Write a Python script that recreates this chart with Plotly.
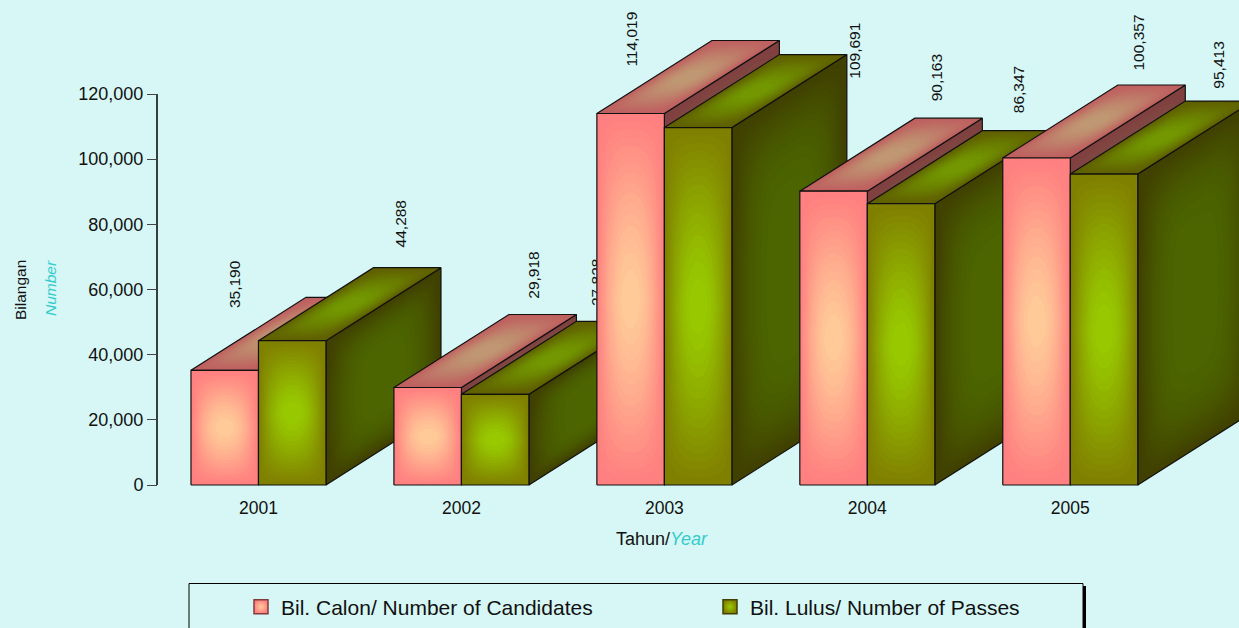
import plotly.graph_objects as go

# ---- data -------------------------------------------------------------
years = ["2001", "2002", "2003", "2004", "2005"]
candidates = [35190, 29918, 114019, 90163, 100357]
passes = [44288, 27828, 109691, 86347, 95413]
y_ticks = [0, 20000, 40000, 60000, 80000, 100000, 120000]
name_candidates = "Bil. Calon/ Number of Candidates"
name_passes = "Bil. Lulus/ Number of Passes"

# ---- styling / geometry (pixels of the page) ---------------------------
W, H = 1239, 628
PL, PR, PT, PB = 157, 1171.75, 94, 485
BG = "#d6f7f5"
X_PER_PX = 5 / (PR - PL)
Y_PER_PX = 120000 / (PB - PT)
BAR_W = 67.5 * X_PER_PX
DEPTH_X = 115 * X_PER_PX
DEPTH_Y = 73 * Y_PER_PX
LEVELS = 16

PINK = ((255, 128, 128), (255, 204, 153))
GREEN = ((128, 128, 0), (153, 204, 0))
label_shift_cand = [(10, 60), (105, 87), (1, 45), (103, 88), (101, 85)]
label_shift_pass = [(108, 91), (102, 86), (156, 47), (117, 88), (115, 83)]


def mix(pair, s, k):
    a, b = pair
    return "rgb(%d,%d,%d)" % tuple(round((a[i] + (b[i] - a[i]) * s) * k) for i in range(3))


def contour(level, px, py, n=14):
    """Closed contour (u, v in -1..1) of (1-|u|^px)(1-|v|^py) = level."""
    umax = (1 - level) ** (1 / px) * 0.999
    us = [-umax + 2 * umax * i / (2 * n) for i in range(2 * n + 1)]
    upper = []
    for u in us:
        f = max(1 - abs(u) ** px, 1e-6)
        upper.append((u, max(1 - level / f, 0) ** (1 / py)))
    lower = [(u, -v) for u, v in reversed(upper)]
    return upper + lower


def face(fig, corners, pair, k, px=2.2, py=1.5):
    p0, p1, p2, p3 = corners  # bottom-left, bottom-right, top-right, top-left
    def mapper(u, v):
        a, b = (u + 1) / 2, (v + 1) / 2
        x = (1 - b) * ((1 - a) * p0[0] + a * p1[0]) + b * ((1 - a) * p3[0] + a * p2[0])
        y = (1 - b) * ((1 - a) * p0[1] + a * p1[1]) + b * ((1 - a) * p3[1] + a * p2[1])
        return x, y
    xs = [c[0] for c in corners] + [p0[0]]
    ys = [c[1] for c in corners] + [p0[1]]
    fig.add_trace(go.Scatter(x=xs, y=ys, mode="lines", fill="toself", fillcolor=mix(pair, 0, k),
                             line=dict(width=0), hoverinfo="skip", showlegend=False))
    for i in range(1, LEVELS):
        level = i / LEVELS
        pts = [mapper(u, v) for u, v in contour(level, px, py)]
        fig.add_trace(go.Scatter(x=[p[0] for p in pts], y=[p[1] for p in pts], mode="lines",
                                 fill="toself", fillcolor=mix(pair, ((i + 0.5) / LEVELS) ** 1.2, k),
                                 line=dict(width=0), hoverinfo="skip", showlegend=False))
    fig.add_trace(go.Scatter(x=xs, y=ys, mode="lines", line=dict(color="#111111", width=1.2),
                             hoverinfo="skip", showlegend=False))


def box(fig, x0, value, pair):
    x1 = x0 + BAR_W
    dx, dy = DEPTH_X, DEPTH_Y
    face(fig, [(x1, 0), (x1 + dx, dy), (x1 + dx, value + dy), (x1, value)], pair, 0.5, 3, 4)
    face(fig, [(x0, value), (x1, value), (x1 + dx, value + dy), (x0 + dx, value + dy)], pair, 0.75, 2.5, 1.8)
    face(fig, [(x0, 0), (x1, 0), (x1, value), (x0, value)], pair, 1.0)


fig = go.Figure()
fig.add_trace(go.Scatter(x=[0, 0], y=[y_ticks[0], y_ticks[-1]], mode="lines", hoverinfo="skip",
                         line=dict(color="#000000", width=1.5), showlegend=False))
for i, year in enumerate(years):
    box(fig, i + 0.5 - BAR_W, candidates[i], PINK)
    box(fig, i + 0.5, passes[i], GREEN)

# legend entries
for name, pair, edge in ((name_candidates, PINK, "#803c3c"), (name_passes, GREEN, "#404000")):
    fig.add_trace(go.Scatter(
        x=[None], y=[None], mode="markers", name=name,
        marker=dict(symbol="square", size=14, color=mix(pair, 0, 1),
                    gradient=dict(type="radial", color=mix(pair, 1, 1)),
                    line=dict(color=edge, width=1.5))))

annotations = []
all_labels = []
for i in range(len(years)):
    all_labels.append((i + 0.5 - BAR_W / 2, candidates[i], label_shift_cand[i]))
    all_labels.append((i + 0.5 + BAR_W / 2, passes[i], label_shift_pass[i]))
for x, v, (sx, sy) in all_labels:
    annotations.append(dict(x=x, y=v, xref="x", yref="y", text=f"{v:,}", showarrow=False,
                            textangle=-90, xanchor="center", yanchor="bottom",
                            xshift=sx, yshift=sy, font=dict(size=15.5, color="#111111")))
hidden_label_index = 3  # 27,828 sits behind the 2003 bar


def px_x(p):
    return p / W


def px_y(p):
    return 1 - p / H


def title(text, x, y, size, color="#111111", angle=0):
    return dict(x=px_x(x), y=px_y(y), xref="paper", yref="paper", text=text, textangle=angle,
                xanchor="center", yanchor="middle", showarrow=False, font=dict(size=size, color=color))


annotations += [
    title("Bilangan", 20, 290, 15.5, angle=-90),
    title("<i>Number</i>", 50, 288, 15.5, "#33cccc", -90),
    title('Tahun/<span style="color:#33cccc"><i>Year</i></span>', 662, 539, 18),
]

shapes = [
    dict(type="line", xref="paper", yref="paper", x0=px_x(1084.5), x1=px_x(1084.5), y0=px_y(586), y1=px_y(640),
         line=dict(color="#000000", width=3)),
    dict(type="rect", xref="paper", yref="paper", x0=px_x(189), x1=px_x(1083), y0=px_y(583.5), y1=px_y(640),
         line=dict(color="#000000", width=1), fillcolor=BG, layer="above"),
]

fig.update_layout(
    width=W, height=H, autosize=False,
    margin=dict(l=0, r=0, t=0, b=0, pad=0, autoexpand=False),
    paper_bgcolor=BG, plot_bgcolor=BG,
    font=dict(family="Liberation Sans, Arial, sans-serif", color="#111111"),
    xaxis=dict(range=[-PL * X_PER_PX, (W - PL) * X_PER_PX], anchor="free", position=1 - PB / H,
               tickmode="array", tickvals=[i + 0.5 for i in range(len(years))], ticktext=years,
               showgrid=False, zeroline=False, showline=False, ticks="outside", ticklen=7,
               tickcolor="rgba(0,0,0,0)", tickfont=dict(size=17.5)),
    yaxis=dict(range=[-(H - PB) * Y_PER_PX, PB * Y_PER_PX], anchor="free", position=PL / W,
               tickmode="array", tickvals=y_ticks, ticktext=[f"{v:,}" for v in y_ticks],
               showgrid=False, zeroline=False, showline=False,
               ticks="outside", ticklen=10, tickcolor="#444444", tickfont=dict(size=18)),
    annotations=annotations, shapes=shapes,
    legend=dict(orientation="h", x=px_x(241), y=px_y(607), xanchor="left", yanchor="middle",
                bgcolor="rgba(0,0,0,0)", font=dict(size=21), entrywidth=424, entrywidthmode="pixels",
                traceorder="normal", itemclick=False, itemdoubleclick=False),
    showlegend=True,
)

post = """
document.body.style.margin='0';
document.body.style.overflow='hidden';
var gd=document.getElementById('{plot_id}');
var a=gd.querySelectorAll('.annotation')[%d];
if(a){a.style.clipPath='polygon(0 0, 50%% 0, 50%% 100%%, 0 100%%)';}
""" % hidden_label_index
fig.write_html("out.html", post_script=post, config={"displayModeBar": False})
